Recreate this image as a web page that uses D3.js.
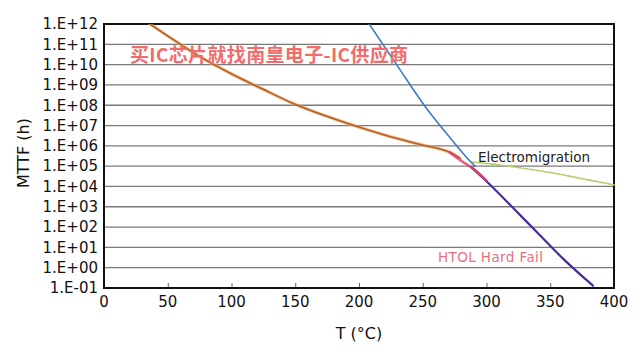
<!DOCTYPE html>
<html><head><meta charset="utf-8">
<script src="https://cdn.jsdelivr.net/npm/d3@7"></script>
<style>body{margin:0;background:#fff}svg{display:block}</style>
</head><body><svg id="c" width="640" height="364"></svg>
<script>
// ---- data ----
const yTickValues = [1e12,1e11,1e10,1e9,1e8,1e7,1e6,1e5,1e4,1e3,1e2,1e1,1e0,1e-1];
const yTickLabels = ["1.E+12","1.E+11","1.E+10","1.E+09","1.E+08","1.E+07","1.E+06","1.E+05","1.E+04","1.E+03","1.E+02","1.E+01","1.E+00","1.E-01"];
const xTickValues = [0,50,100,150,200,250,300,350,400];

const orangeT = [36, 50, 75, 100, 125, 150, 175, 200, 225, 250, 265, 271, 279];
const orangeV = [1e12, 2.6e11, 2.5e10, 3.5e9, 6.0e8, 1.1e8, 2.8e7, 8.3e6, 2.8e6, 1.1e6, 6.6e5, 4.9e5, 2.5e5];

const blueT = [208, 230, 252, 270, 287, 291];
const blueV = [1e12, 8.9e9, 8.5e7, 3.2e6, 1.8e5, 1.0e5];

const redT = [271, 281, 289, 300];
const redV = [4.9e5, 1.7e5, 8.0e4, 2.0e4];

const purpleT = [288, 300, 320, 340, 360, 383.5];
const purpleV = [8.9e4, 1.8e4, 1.0e3, 52, 2.8, 0.13];

const greenT = [288, 308, 330, 352, 375, 400];
const greenV = [1.6e5, 1.2e5, 7.6e4, 4.6e4, 2.4e4, 1.2e4];

// ---- layout ----
const svg = d3.select("#c");
const L = 104, R = 614, T = 24, B = 288;
const x = d3.scaleLinear().domain([0, 400]).range([L, R]);
const y = d3.scaleLog().domain([1e-1, 1e12]).range([B, T]);

// gridlines
svg.append("g").selectAll("line").data(yTickValues).join("line")
  .attr("x1", L).attr("x2", R)
  .attr("y1", d => y(d)).attr("y2", d => y(d))
  .attr("stroke", "#7a7a7a").attr("stroke-width", 1.3);

// y axis labels
const yAxis = d3.axisLeft(y).tickValues(yTickValues)
  .tickFormat((d, i) => yTickLabels[i]).tickSize(0).tickPadding(6);
const gy = svg.append("g").attr("transform", `translate(${L},0)`).call(yAxis);
gy.select(".domain").remove();
gy.selectAll("text").attr("font-family", "DejaVu Sans").attr("font-size", 15).attr("fill", "#111");

// x axis (inward ticks)
const xAxis = d3.axisTop(x).tickValues(xTickValues).tickSize(4).tickFormat("");
const gx = svg.append("g").attr("transform", `translate(0,${B-1})`).call(xAxis);
gx.select(".domain").remove();
gx.selectAll("line").attr("stroke", "#666").attr("stroke-width", 1);
svg.append("g").selectAll("text").data(xTickValues).join("text")
  .attr("x", d => x(d)).attr("y", 307).attr("text-anchor", "middle")
  .attr("font-family", "DejaVu Sans").attr("font-size", 15).attr("fill", "#111")
  .text(d => d);

// frame
svg.append("rect").attr("x", L).attr("y", T).attr("width", R - L).attr("height", B - T)
  .attr("fill", "none").attr("stroke", "#111").attr("stroke-width", 2);

// curves
const line = d3.line().x(d => x(d[0])).y(d => y(d[1])).curve(d3.curveMonotoneX);
function draw(ts, vs, color, w, extra) {
  const p = svg.append("path").datum(ts.map((t, i) => [t, vs[i]]))
    .attr("d", line).attr("fill", "none").attr("stroke", color)
    .attr("stroke-width", w).attr("stroke-linejoin", "round").attr("stroke-linecap", "round");
  if (extra) extra(p);
  return p;
}
svg.append("defs").append("clipPath").attr("id", "clip")
  .append("rect").attr("x", L).attr("y", T).attr("width", R - L).attr("height", B - T);

draw(greenT, greenV, "#b4cd6a", 1.6, p => p.attr("stroke-dasharray", "5,1.5"));
draw(orangeT, orangeV, "#f5b070", 3.5, p => p.attr("opacity", 0.6)).attr("clip-path", "url(#clip)");
draw(orangeT, orangeV, "#b8642a", 1.8).attr("clip-path", "url(#clip)");
draw(blueT, blueV, "#3f7cc4", 1.6).attr("clip-path", "url(#clip)");
draw(purpleT, purpleV, "#4a2c98", 2.2).attr("clip-path", "url(#clip)");
draw(redT, redV, "#e2406a", 2.6, p => p.attr("opacity", 0.85));

// labels
svg.append("text").attr("x", 478).attr("y", 162)
  .attr("font-family", "DejaVu Sans").attr("font-size", 13.5).attr("fill", "#222")
  .text("Electromigration");
svg.append("text").attr("x", 438).attr("y", 262)
  .attr("font-family", "DejaVu Sans").attr("font-size", 13.5).attr("fill", "#e8707f")
  .attr("textLength", 105)
  .text("HTOL Hard Fail");
svg.append("text").attr("x", 130).attr("y", 62)
  .attr("font-family", "Noto Sans CJK SC").attr("font-weight", "bold")
  .attr("font-size", 19).attr("fill", "#f26c6c").attr("textLength", 278)
  .text("买IC芯片就找南皇电子-IC供应商");

// axis titles
svg.append("text").attr("transform", "translate(29,153) rotate(-90)")
  .attr("text-anchor", "middle").attr("font-family", "DejaVu Sans").attr("font-size", 16)
  .attr("fill", "#111").text("MTTF (h)");
svg.append("text").attr("x", 359).attr("y", 339).attr("text-anchor", "middle")
  .attr("font-family", "DejaVu Sans").attr("font-size", 16).attr("fill", "#111")
  .text("T (°C)");
</script></body></html>
